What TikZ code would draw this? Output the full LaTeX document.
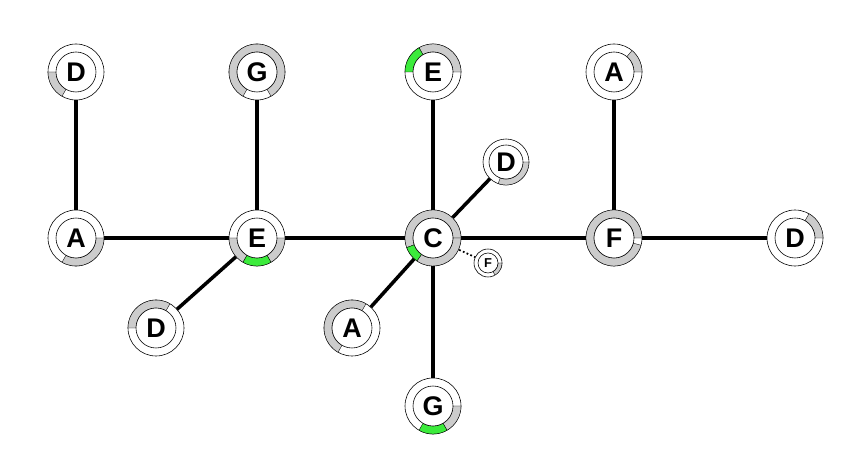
\documentclass[tikz,border=0pt]{standalone}
\usepackage{fontspec}
\setmainfont{Liberation Sans}
\usetikzlibrary{calc}
\definecolor{ringgray}{RGB}{204,204,204}
\definecolor{ringgreen}{RGB}{60,235,60}

% ring node: centre, outer radius, inner radius, gray sectors, green sectors, label
\newcommand{\ringat}[6]{%
  \fill[white,draw=black,line width=0.5pt] (#1) circle[radius=#2];
  \foreach \a/\b in {#4} {\fill[ringgray,draw=black,line width=0.3pt] ($(#1)+(\a:#2)$) arc[start angle=\a,end angle=\b,radius=#2] -- ($(#1)+(\b:#3)$) arc[start angle=\b,end angle=\a,radius=#3] -- cycle;}
  \foreach \a/\b in {#5} {\fill[ringgreen,draw=black,line width=0.3pt] ($(#1)+(\a:#2)$) arc[start angle=\a,end angle=\b,radius=#2] -- ($(#1)+(\b:#3)$) arc[start angle=\b,end angle=\a,radius=#3] -- cycle;}
  \draw[fill=white,line width=0.5pt] (#1) circle[radius=#3];
  \node[font=\fontsize{23}{23}\selectfont\bfseries] at (#1) {#6};
}

\begin{document}
\begin{tikzpicture}[x=0.03cm,y=0.03cm,edge/.style={line width=3pt}]
\useasboundingbox (0,0) rectangle (847,455);
\coordinate (D1) at (76,383);
\coordinate (G1) at (257,383);
\coordinate (E1) at (433,383);
\coordinate (A1) at (614,383);
\coordinate (A2) at (76,217);
\coordinate (E2) at (257,217);
\coordinate (C) at (433,217);
\coordinate (F2) at (614,217);
\coordinate (D2) at (795,217);
\coordinate (Ds) at (506,293);
\coordinate (Ft) at (488,192);
\coordinate (Db) at (156,127);
\coordinate (Ab) at (352,127);
\coordinate (Gb) at (433,49);
% edges
\draw[edge] (D1) -- (A2);
\draw[edge] (G1) -- (E2);
\draw[edge] (E1) -- (C);
\draw[edge] (A1) -- (F2);
\draw[edge] (A2) -- (E2) -- (C) -- (F2) -- (D2);
\draw[edge] (C) -- (Ds);
\draw[edge] (E2) -- (Db);
\draw[edge] (C) -- (Ab);
\draw[edge] (C) -- (Gb);
\draw[line width=1.5pt,dotted] (C) -- (Ft);
% rings
\ringat{D1}{28}{20}{180/240}{}{D}
\ringat{G1}{28}{20}{-60/240}{}{G}
\ringat{E1}{28}{20}{0/120}{120/180}{E}
\ringat{A1}{28}{20}{0/50}{}{A}
\ringat{A2}{28}{20}{240/360}{}{A}
\ringat{E2}{28}{20}{180/240,300/360}{240/300}{E}
\ringat{C}{28}{20}{0/200,235/360}{200/235}{C}
\ringat{F2}{28}{20}{0/345}{}{F}
\ringat{D2}{28}{20}{0/60}{}{D}
\ringat{Ds}{23}{17}{250/360}{}{D}
\ringat{Ft}{14}{10}{-60/0}{}{\fontsize{11}{11}\selectfont F}
\ringat{Db}{28}{20}{60/180}{}{D}
\ringat{Ab}{28}{20}{60/240}{}{A}
\ringat{Gb}{28}{20}{300/360}{240/300}{G}
\end{tikzpicture}
\end{document}
